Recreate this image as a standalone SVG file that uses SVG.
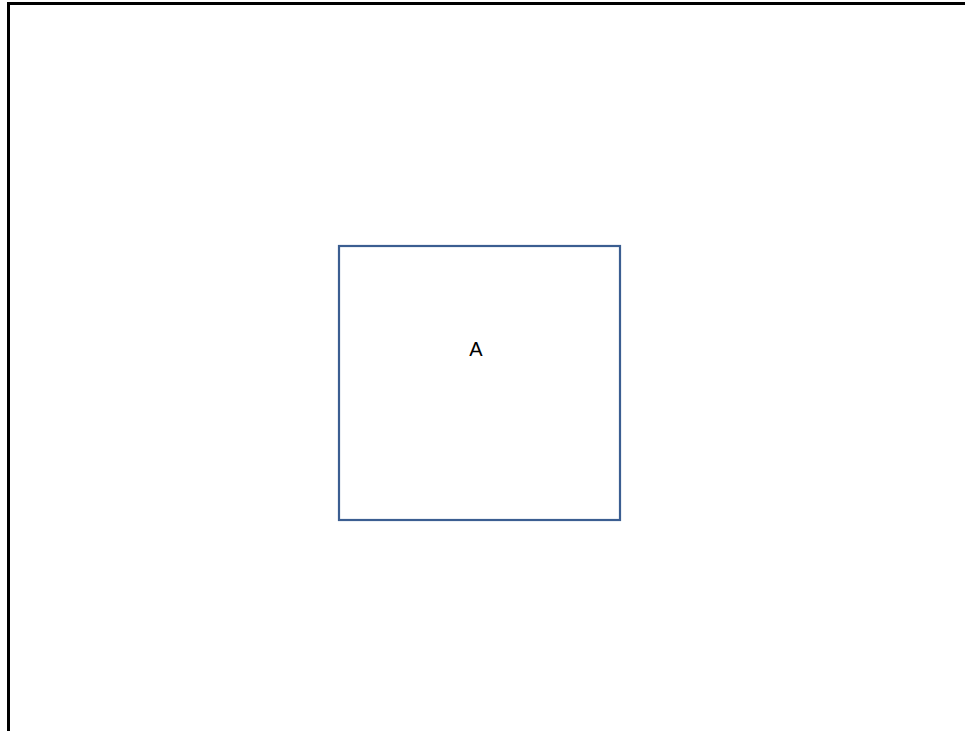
<svg xmlns="http://www.w3.org/2000/svg" width="965" height="731" viewBox="0 0 965 731">
<style>
.frame{fill:none;stroke:#000;stroke-width:3}
.node{fill:#fff;stroke:#3b5e91;stroke-width:2.2}
.lbl{font-family:"Liberation Sans",Arial,sans-serif;font-size:20px;fill:#000;text-anchor:middle}
</style>
<rect x="0" y="0" width="965" height="731" fill="#fff"/>
<path class="frame" d="M8.5,740 V3.5 H975"/>
<g id="connectors"></g>
<g id="node-A">
<rect class="node" x="339" y="246" width="281" height="274"/>
<text class="lbl" x="476" y="355.5">A</text>
</g>
</svg>
